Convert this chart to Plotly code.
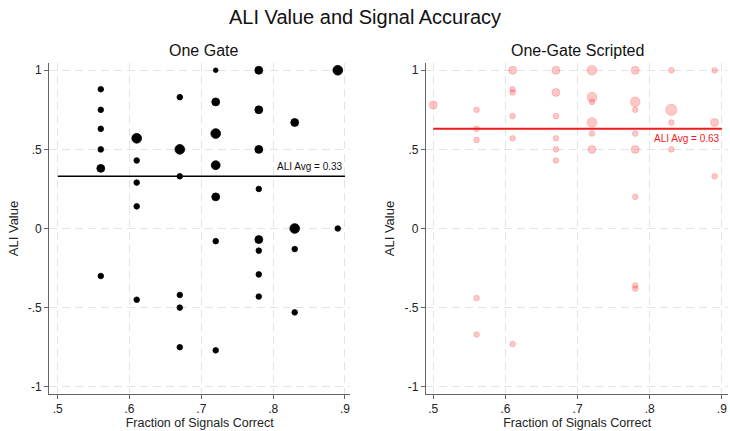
import math
import plotly.graph_objects as go

# ---------------- data ----------------
# One Gate (left panel)
one_x = [0.56, 0.56, 0.56, 0.56, 0.56, 0.56,
         0.61, 0.61, 0.61, 0.61, 0.61,
         0.67, 0.67, 0.67, 0.67, 0.67, 0.67,
         0.72, 0.72, 0.72, 0.72, 0.72, 0.72, 0.72,
         0.78, 0.78, 0.78, 0.78, 0.78, 0.78, 0.78, 0.78,
         0.83, 0.83, 0.83, 0.83,
         0.89, 0.89]
one_y = [0.88, 0.75, 0.63, 0.50, 0.38, -0.30,
         0.57, 0.43, 0.29, 0.14, -0.45,
         0.83, 0.50, 0.33, -0.42, -0.50, -0.75,
         1.00, 0.80, 0.60, 0.40, 0.20, -0.08, -0.77,
         1.00, 0.75, 0.50, 0.25, -0.07, -0.14, -0.29, -0.43,
         0.67, 0.00, -0.13, -0.53,
         1.00, 0.00]
one_w = [1, 1, 1, 1, 2, 1,
         3, 1, 1, 1, 1,
         1, 3, 1, 1, 1, 1,
         0.7, 2, 3, 2.5, 2, 1, 1,
         2, 2, 2, 1, 2, 1, 1, 1,
         2, 3, 1, 1,
         3, 1]
one_avg = 0.33

# One-Gate Scripted (right panel)
scr_x = [0.50,
         0.56, 0.56, 0.56, 0.56, 0.56,
         0.61, 0.61, 0.61, 0.61, 0.61, 0.61,
         0.67, 0.67, 0.67, 0.67, 0.67, 0.67,
         0.72, 0.72, 0.72, 0.72, 0.72, 0.72,
         0.78, 0.78, 0.78, 0.78, 0.78, 0.78, 0.78, 0.78,
         0.83, 0.83, 0.83, 0.83,
         0.89, 0.89, 0.89]
scr_y = [0.78,
         0.75, 0.63, 0.56, -0.44, -0.67,
         1.00, 0.88, 0.86, 0.71, 0.57, -0.73,
         1.00, 0.86, 0.71, 0.57, 0.50, 0.43,
         1.00, 0.83, 0.80, 0.67, 0.60, 0.50,
         1.00, 0.80, 0.75, 0.60, 0.50, 0.20, -0.36, -0.38,
         1.00, 0.75, 0.67, 0.50,
         1.00, 0.67, 0.33]
scr_w = [2,
         1, 1, 1, 1, 1,
         2, 1, 1, 1, 1, 1,
         2, 2, 1, 1, 1, 1,
         3, 3, 1, 3, 1, 2,
         2, 3, 1, 1, 2, 1, 1, 1,
         1, 4, 1, 1,
         1, 2, 1]
scr_avg = 0.63

x_ticks = [0.5, 0.6, 0.7, 0.8, 0.9]
x_ticklabels = [".5", ".6", ".7", ".8", ".9"]
y_ticks = [-1, -0.5, 0, 0.5, 1]
y_ticklabels = ["-1", "-.5", "0", ".5", "1"]

# ---------------- figure ----------------
FONT = "Liberation Sans, Arial, sans-serif"
BASE = 5.6


def diam(ws):
    return [BASE * math.sqrt(w) for w in ws]


fig = go.Figure()

fig.add_trace(go.Scatter(
    x=one_x, y=one_y, mode="markers", xaxis="x", yaxis="y",
    marker=dict(size=diam(one_w), color="#000000", opacity=1,
                line=dict(width=0.8, color="#000000")),
    showlegend=False, hoverinfo="skip"))
fig.add_trace(go.Scatter(
    x=[x_ticks[0], x_ticks[-1]], y=[one_avg, one_avg], mode="lines",
    xaxis="x", yaxis="y", line=dict(color="black", width=1.6),
    showlegend=False, hoverinfo="skip"))

fig.add_trace(go.Scatter(
    x=scr_x, y=scr_y, mode="markers", xaxis="x2", yaxis="y2",
    marker=dict(size=diam(scr_w), color="rgba(255,0,0,0.3)",
                line=dict(width=1, color="rgba(255,0,0,0.28)")),
    showlegend=False, hoverinfo="skip"))
fig.add_trace(go.Scatter(
    x=[x_ticks[0], x_ticks[-1]], y=[scr_avg, scr_avg], mode="lines",
    xaxis="x2", yaxis="y2", line=dict(color="#ee1c1c", width=2),
    showlegend=False, hoverinfo="skip"))

axis_common = dict(
    showline=True, linecolor="#666666", linewidth=1.3,
    ticks="outside", ticklen=4, tickcolor="#666666", tickwidth=1.2,
    showgrid=True, gridcolor="#e4e4e4", gridwidth=1, griddash="8px,5px",
    zeroline=False, tickfont=dict(family=FONT, size=12, color="#222222"),
    mirror=False,
)

xr = dict(tickvals=x_ticks, ticktext=x_ticklabels,
          title=dict(text="Fraction of Signals Correct",
                     font=dict(family=FONT, size=12.5, color="#222222"), standoff=2))
yr = dict(tickvals=y_ticks, ticktext=y_ticklabels, range=[-1.044, 1.044],
          title=dict(text="ALI Value",
                     font=dict(family=FONT, size=13, color="#222222"), standoff=6))

H = 431.0
W = 730.0
ydom = [1 - 393.7 / H, 1 - 63.3 / H]

fig.update_layout(
    width=730, height=431,
    margin=dict(l=0, r=0, t=0, b=0),
    paper_bgcolor="white", plot_bgcolor="white",
    font=dict(family=FONT, color="#222222"),
    xaxis=dict(**axis_common, **xr, domain=[49.3 / W, 350 / W],
               range=[0.4883, 0.907], anchor="y"),
    yaxis=dict(**axis_common, **yr, domain=ydom, anchor="x"),
    xaxis2=dict(**axis_common, **xr, domain=[426 / W, 728.3 / W],
                range=[0.4899, 0.909], anchor="y2"),
    yaxis2=dict(**axis_common, **yr, domain=ydom, anchor="x2"),
    annotations=[
        dict(text="ALI Value and Signal Accuracy", x=0.5, y=1 - 17 / H,
             xref="paper", yref="paper", xanchor="center", yanchor="middle",
             showarrow=False, font=dict(family=FONT, size=20, color="#111111")),
        dict(text="One Gate", x=(49.3 + 350) / 2 / W + 0.0055, y=1 - 51 / H,
             xref="paper", yref="paper", xanchor="center", yanchor="middle",
             showarrow=False, font=dict(family=FONT, size=16, color="#111111")),
        dict(text="One-Gate Scripted", x=(426 + 728.3) / 2 / W, y=1 - 51 / H,
             xref="paper", yref="paper", xanchor="center", yanchor="middle",
             showarrow=False, font=dict(family=FONT, size=16, color="#111111")),
        dict(text="ALI Avg = %.2f" % one_avg, x=x_ticks[-1], y=one_avg,
             xref="x", yref="y", xanchor="right", yanchor="bottom", yshift=2,
             showarrow=False, font=dict(family=FONT, size=10, color="#111111")),
        dict(text="ALI Avg = %.2f" % scr_avg, x=x_ticks[-1], y=scr_avg,
             xref="x2", yref="y2", xanchor="right", yanchor="top", yshift=-2,
             showarrow=False, font=dict(family=FONT, size=10, color="#ee1c1c")),
    ],
)

fig.write_html("out.html")
